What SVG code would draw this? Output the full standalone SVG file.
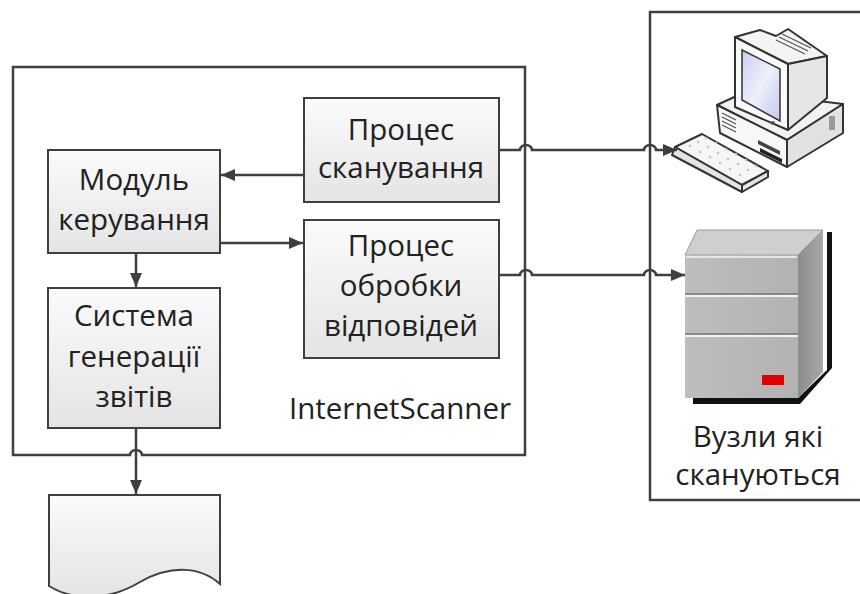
<svg xmlns="http://www.w3.org/2000/svg" width="860" height="594" viewBox="0 0 860 594">
  <style>
    .frame { fill: none; stroke: #3f3f3f; stroke-width: 2.5; }
    .box { fill: url(#boxFill); stroke: #3f3f3f; stroke-width: 2; }
    .lbl { font-family: "Open Sans", "Noto Sans", "Liberation Sans", sans-serif; font-size: 29.5px; fill: #222; text-anchor: middle; }
    .conn { fill: none; stroke: #3f3f3f; stroke-width: 2.5; }
    .pc { stroke: #333; stroke-width: 2; stroke-linejoin: round; }
  </style>
  <defs>
    <linearGradient id="boxFill" x1="0" y1="0" x2="0" y2="1">
      <stop offset="0" stop-color="#fbfbfb"/>
      <stop offset="1" stop-color="#e4e4e4"/>
    </linearGradient>
    <linearGradient id="screenFill" x1="0" y1="0" x2="1" y2="1">
      <stop offset="0" stop-color="#c9cdf0"/>
      <stop offset="0.5" stop-color="#eef0fb"/>
      <stop offset="1" stop-color="#c4c9ea"/>
    </linearGradient>
    <linearGradient id="srvFront" x1="0" y1="0" x2="1" y2="0">
      <stop offset="0" stop-color="#bdbdbd"/>
      <stop offset="1" stop-color="#b2b2b2"/>
    </linearGradient>
    <linearGradient id="srvSide" x1="0" y1="0" x2="1" y2="0">
      <stop offset="0" stop-color="#8c8c8c"/>
      <stop offset="1" stop-color="#a8a8a8"/>
    </linearGradient>
    <marker id="arrow" viewBox="0 0 14 12" refX="14" refY="6" markerWidth="14" markerHeight="12" markerUnits="userSpaceOnUse" orient="auto">
      <path d="M0,0 L14,6 L0,12 Z" fill="#3f3f3f"/>
    </marker>
  </defs>

  <!-- InternetScanner frame (bottom edge hops over the report connector) -->
  <g id="internet-scanner">
    <path class="frame" d="M13,67 H525 V455 H142 a6,5 0 0 0 -12,0 H13 Z"/>
    <text class="lbl" x="400" y="419">InternetScanner</text>
  </g>

  <!-- Scanned hosts frame -->
  <g id="scanned-hosts">
    <path class="frame" d="M650,12 H870 V500 H650 Z"/>
    <text class="lbl" x="758" y="447">Вузли які</text>
    <text class="lbl" x="758" y="485">скануються</text>
  </g>

  <g id="scan-process">
    <rect class="box" x="304" y="98" width="195" height="104"/>
    <text class="lbl" x="401" y="140">Процес</text>
    <text class="lbl" x="401" y="178">сканування</text>
  </g>

  <g id="control-module">
    <rect class="box" x="48" y="150" width="172" height="103"/>
    <text class="lbl" x="134" y="190">Модуль</text>
    <text class="lbl" x="134" y="230">керування</text>
  </g>

  <g id="response-process">
    <rect class="box" x="304" y="220" width="195" height="138"/>
    <text class="lbl" x="401" y="256">Процес</text>
    <text class="lbl" x="401" y="296">обробки</text>
    <text class="lbl" x="401" y="336">відповідей</text>
  </g>

  <g id="report-system">
    <rect class="box" x="48" y="288" width="172" height="140"/>
    <text class="lbl" x="134" y="326">Система</text>
    <text class="lbl" x="134" y="367">генерації</text>
    <text class="lbl" x="134" y="407">звітів</text>
  </g>

  <!-- Report document -->
  <g id="report-document">
    <path class="box" d="M49,495 H220 V584 C200,566 170,565 140,582 C110,600 75,602 49,586 Z"/>
  </g>

  <!-- Workstation -->
  <g id="workstation">
    <!-- system unit -->
    <path class="pc" fill="#f2f2f2" d="M717,105 L745,92 L843,104 L787,140 Z"/>
    <path class="pc" fill="#f7f7f7" d="M717,105 L787,140 L787,167 L720,133 Z"/>
    <path class="pc" fill="#e2e2e2" d="M787,140 L843,104 L843,133 L787,167 Z"/>
    <g stroke="#555" stroke-width="1.3">
      <line x1="722" y1="113" x2="736" y2="120"/>
      <line x1="722" y1="117" x2="736" y2="124"/>
      <line x1="722" y1="121" x2="736" y2="128"/>
      <line x1="722" y1="125" x2="736" y2="132"/>
    </g>
    <path d="M758,140 L780,151 L780,155 L758,144 Z" fill="#444"/>
    <path d="M760,148 L782,159 L782,163 L760,152 Z" fill="#222"/>
    <rect x="829" y="116" width="6" height="14" fill="#9a9a9a"/>
    <!-- monitor -->
    <path class="pc" fill="#f4f4f4" d="M735,37 L760,30 L776,36 L788,29 L827,56 L788,64 Z"/>
    <path class="pc" fill="#e6e6e6" d="M788,64 L827,56 L827,98 L788,130 Z"/>
    <path class="pc" fill="#fafafa" d="M735,37 L788,64 L788,130 L735,107 Z"/>
    <path fill="url(#screenFill)" stroke="#333" stroke-width="1.5" d="M742,50 L780,69 L780,121 L742,100 Z"/>
    <g stroke="#555" stroke-width="1.3">
      <line x1="776" y1="40" x2="805" y2="54"/>
      <line x1="779" y1="37" x2="808" y2="51"/>
      <line x1="782" y1="34" x2="811" y2="48"/>
    </g>
    <circle cx="773" cy="123" r="2" fill="#555"/>
    <!-- keyboard -->
    <path class="pc" fill="#f6f6f6" d="M675,147 L702,134 L768,171 L742,185 Z"/>
    <path class="pc" fill="#e4e4e4" d="M675,147 L742,185 L742,192 L672,155 Z"/>
    <path class="pc" fill="#e4e4e4" d="M742,185 L768,171 L768,177 L742,192 Z"/>
    <g fill="#c6c6c6">
      <circle cx="690" cy="146" r="1.3"/><circle cx="700" cy="152" r="1.3"/><circle cx="710" cy="157" r="1.3"/><circle cx="720" cy="163" r="1.3"/><circle cx="730" cy="169" r="1.3"/><circle cx="740" cy="175" r="1.3"/>
      <circle cx="698" cy="142" r="1.3"/><circle cx="708" cy="147" r="1.3"/><circle cx="718" cy="153" r="1.3"/><circle cx="728" cy="159" r="1.3"/><circle cx="738" cy="164" r="1.3"/><circle cx="748" cy="170" r="1.3"/>
      <circle cx="706" cy="138" r="1.3"/><circle cx="716" cy="143" r="1.3"/><circle cx="726" cy="149" r="1.3"/><circle cx="736" cy="154" r="1.3"/><circle cx="746" cy="160" r="1.3"/><circle cx="756" cy="166" r="1.3"/>
    </g>
  </g>

  <!-- Server -->
  <g id="server">
    <path d="M827,232 L832,232 L832,368 L800,404 L693,404 L693,398 L798,398 L827,370 Z" fill="#111"/>
    <path d="M685,255 L697,230 L823,230 L798,255 Z" fill="#cfcfcf" stroke="#9a9a9a" stroke-width="1"/>
    <path d="M798,255 L823,230 L823,372 L798,398 Z" fill="url(#srvSide)"/>
    <rect x="685" y="255" width="113" height="143" fill="url(#srvFront)"/>
    <line x1="686" y1="257" x2="797" y2="257" stroke="#e6e6e6" stroke-width="2"/>
    <line x1="685" y1="294" x2="798" y2="294" stroke="#7a7a7a" stroke-width="1.5"/>
    <line x1="685" y1="296" x2="798" y2="296" stroke="#f2f2f2" stroke-width="2"/>
    <line x1="685" y1="334" x2="798" y2="334" stroke="#7a7a7a" stroke-width="1.5"/>
    <line x1="685" y1="336" x2="798" y2="336" stroke="#f2f2f2" stroke-width="2"/>
    <rect x="762" y="375" width="22" height="10" fill="#e00000"/>
  </g>

  <!-- Connectors -->
  <g id="connectors">
    <path class="conn" marker-end="url(#arrow)" d="M304,175 H221"/>
    <path class="conn" marker-end="url(#arrow)" d="M220,243 H303"/>
    <path class="conn" marker-end="url(#arrow)" d="M136,253 V287"/>
    <path class="conn" marker-end="url(#arrow)" d="M136,428 V494"/>
    <path class="conn" marker-end="url(#arrow)" d="M499,150 H520 a6,5 0 0 1 12,0 H644 a6,5 0 0 1 12,0 H677"/>
    <path class="conn" marker-end="url(#arrow)" d="M499,275 H520 a6,5 0 0 1 12,0 H644 a6,5 0 0 1 12,0 H685"/>
  </g>
</svg>
